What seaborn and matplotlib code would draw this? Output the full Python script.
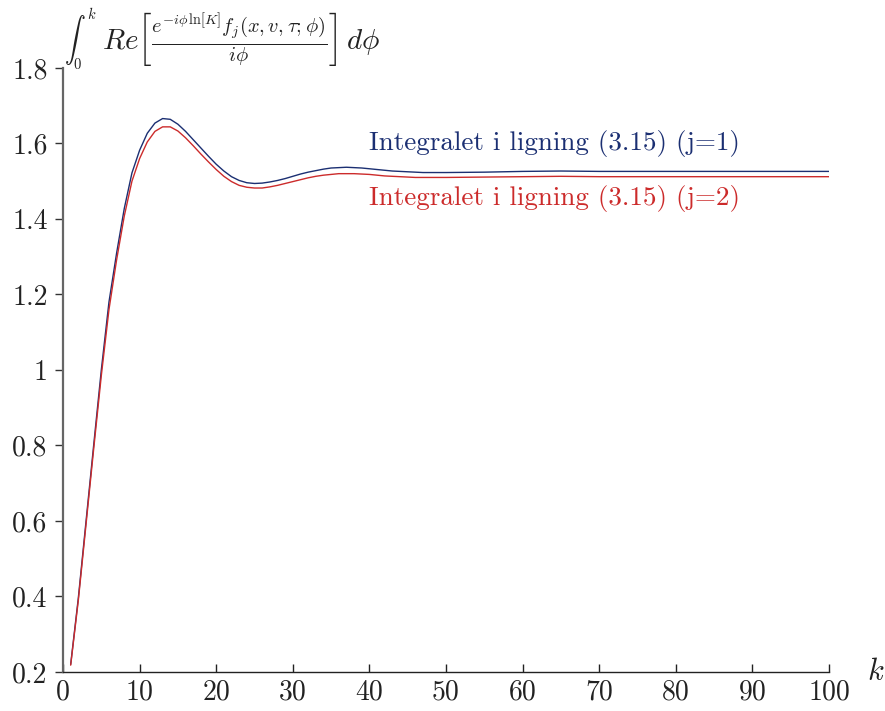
import matplotlib
matplotlib.use("Agg")
import matplotlib.pyplot as plt
import seaborn as sns
import pandas as pd

# k values at which the integral was evaluated
k_values = list(range(1, 51)) + [55, 60, 65, 70, 75, 80, 85, 90, 95, 100]

# Integral of Re[...] up to k, j = 1
integral_j1 = [
    0.220, 0.396, 0.598, 0.800, 1.000, 1.180, 1.310, 1.428, 1.522, 1.582,
    1.627, 1.654, 1.666, 1.664, 1.651, 1.632, 1.610, 1.588, 1.566, 1.545,
    1.527, 1.512, 1.502, 1.496, 1.494, 1.495, 1.498, 1.502, 1.507, 1.513,
    1.519, 1.524, 1.528, 1.532, 1.535, 1.536, 1.537, 1.536, 1.535, 1.533,
    1.531, 1.529, 1.527, 1.526, 1.525, 1.524, 1.523, 1.523, 1.523, 1.523,
    1.524, 1.526, 1.527, 1.526, 1.526, 1.526, 1.526, 1.526, 1.526, 1.526,
]

# Integral of Re[...] up to k, j = 2
integral_j2 = [
    0.218, 0.390, 0.590, 0.790, 0.985, 1.160, 1.292, 1.408, 1.500, 1.560,
    1.604, 1.632, 1.644, 1.644, 1.633, 1.615, 1.594, 1.572, 1.551, 1.531,
    1.513, 1.499, 1.489, 1.484, 1.482, 1.482, 1.485, 1.489, 1.494, 1.499,
    1.504, 1.509, 1.513, 1.516, 1.518, 1.520, 1.520, 1.520, 1.519, 1.518,
    1.516, 1.514, 1.513, 1.512, 1.511, 1.510, 1.510, 1.510, 1.510, 1.510,
    1.511, 1.512, 1.513, 1.512, 1.512, 1.512, 1.512, 1.512, 1.512, 1.512,
]

series_labels = ["Integralet i ligning (3.15) (j=1)", "Integralet i ligning (3.15) (j=2)"]
x_ticks = [0, 10, 20, 30, 40, 50, 60, 70, 80, 90, 100]
y_ticks = [0.2, 0.4, 0.6, 0.8, 1.0, 1.2, 1.4, 1.6, 1.8]
y_tick_labels = ["0.2", "0.4", "0.6", "0.8", "1", "1.2", "1.4", "1.6", "1.8"]

BLUE = "#1b2f72"
RED = "#cc2b2b"

sns.set_theme(style="ticks")
plt.rcParams["font.family"] = ["cmr10", "DejaVu Serif"]
plt.rcParams["mathtext.fontset"] = "cm"
plt.rcParams["axes.formatter.use_mathtext"] = True

df = pd.DataFrame({
    "k": k_values * 2,
    "value": integral_j1 + integral_j2,
    "series": [series_labels[0]] * len(k_values) + [series_labels[1]] * len(k_values),
})

fig = plt.figure(figsize=(8.85, 7.11), dpi=100)
ax = fig.add_axes([0.0712, 0.0549, 0.8655, 0.8495])

sns.lineplot(data=df, x="k", y="value", hue="series",
             palette={series_labels[0]: BLUE, series_labels[1]: RED},
             linewidth=1.0, legend=False, ax=ax)

ax.set_xlim(0, 100)
ax.set_ylim(0.2, 1.8)
ax.set_xticks(x_ticks)
ax.set_xticklabels([str(t) for t in x_ticks])
ax.set_yticks(y_ticks)
ax.set_yticklabels(y_tick_labels)
ax.set_xlabel("")
ax.set_ylabel("")

for side in ("top", "right"):
    ax.spines[side].set_visible(False)
ax.spines["left"].set_color("#666666")
ax.spines["left"].set_linewidth(1.6)
ax.spines["bottom"].set_color("#222222")
ax.spines["bottom"].set_linewidth(1.0)

ax.tick_params(axis="x", direction="in", length=6, width=1.0, color="#222222",
               labelsize=20, pad=5, labelcolor="#222222")
ax.tick_params(axis="y", direction="out", length=6, width=1.0, color="#333333",
               labelsize=20, pad=5, labelcolor="#222222")

ax.text(40, 1.600, series_labels[0], color=BLUE, fontsize=19.5,
        ha="left", va="center")
ax.text(40, 1.455, series_labels[1], color=RED, fontsize=19.5,
        ha="left", va="center")

# y-axis title: a text-size integral sign followed by the integrand
integral_sign = fig.text(0.072, 0.945, r"$\int_0^k$", fontsize=15,
                         ha="left", va="center", color="#222222")
ax.annotate(r"$\,Re\left[\frac{e^{-i\phi\,\ln[K]}f_j(x,v,\tau;\phi)}{i\phi}\right]\,d\phi$",
            xy=(1.0, 0.5), xycoords=integral_sign, xytext=(1, 0),
            textcoords="offset points", fontsize=21, ha="left", va="center",
            color="#222222", annotation_clip=False)
fig.text(0.989, 0.055, r"$k$", fontsize=22, ha="center", va="center", color="#222222")

fig.savefig("out.png", dpi=100, facecolor="white")
